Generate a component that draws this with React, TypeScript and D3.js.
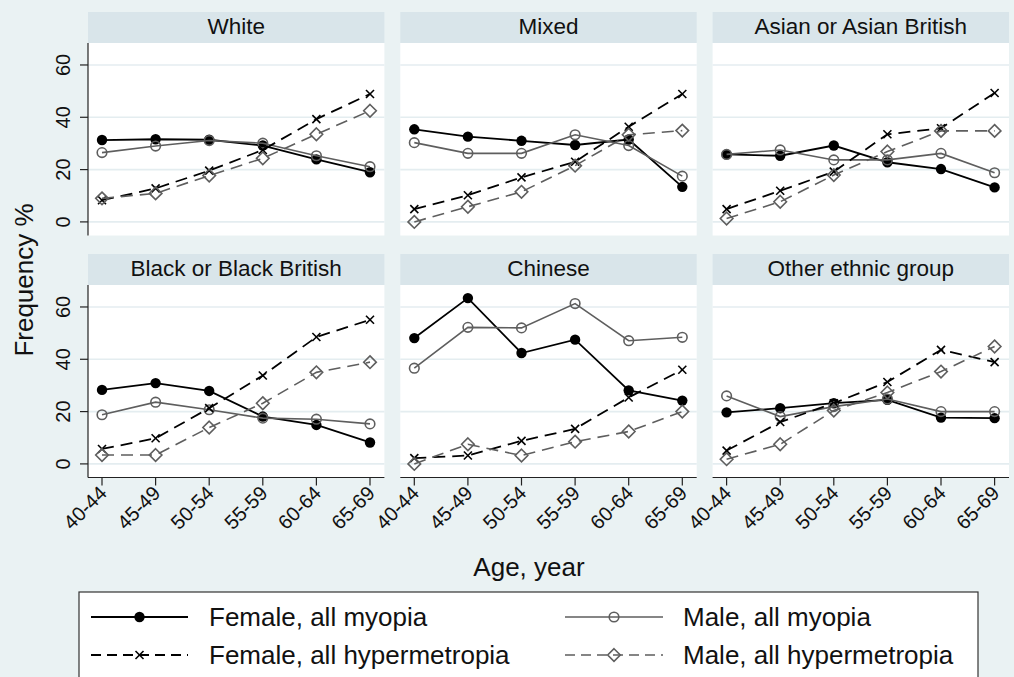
import { useEffect } from 'react';
import * as d3 from 'd3';

// ---- data ----
const ages = ['40-44', '45-49', '50-54', '55-59', '60-64', '65-69'];
const groups = [
  'White',
  'Mixed',
  'Asian or Asian British',
  'Black or Black British',
  'Chinese',
  'Other ethnic group',
];
const femaleMyopia = [
  [31.3, 31.6, 31.4, 29.2, 23.9, 19.0],
  [35.4, 32.6, 31.0, 29.4, 31.5, 13.4],
  [25.8, 25.3, 29.2, 22.8, 20.2, 13.2],
  [28.3, 30.9, 27.9, 18.1, 14.9, 8.2],
  [48.1, 63.4, 42.4, 47.5, 28.1, 24.2],
  [19.7, 21.3, 23.2, 24.5, 17.7, 17.5],
];
const maleMyopia = [
  [26.5, 29.0, 31.1, 30.1, 25.3, 21.1],
  [30.3, 26.2, 26.2, 33.3, 29.2, 17.5],
  [25.8, 27.5, 23.7, 23.7, 26.2, 18.8],
  [18.8, 23.6, 20.7, 17.5, 17.1, 15.3],
  [36.6, 52.2, 52.0, 61.3, 47.1, 48.4],
  [26.0, 18.1, 21.9, 24.8, 20.0, 20.0],
];
const femaleHyper = [
  [8.3, 12.8, 19.6, 27.5, 39.3, 48.9],
  [4.9, 10.2, 17.0, 23.0, 36.4, 48.9],
  [4.9, 11.9, 19.2, 33.5, 35.8, 49.3],
  [5.7, 9.8, 21.3, 33.8, 48.5, 55.1],
  [2.2, 3.2, 8.8, 13.4, 25.4, 36.0],
  [5.1, 16.0, 23.2, 31.3, 43.6, 38.9],
];
const maleHyper = [
  [9.0, 10.9, 17.7, 24.3, 33.5, 42.5],
  [0.0, 5.8, 11.5, 21.5, 33.3, 34.9],
  [1.3, 7.7, 17.9, 26.9, 34.8, 34.8],
  [3.4, 3.4, 13.9, 23.2, 35.0, 38.9],
  [0.0, 7.5, 3.2, 8.5, 12.4, 20.0],
  [1.8, 7.5, 20.4, 27.3, 35.3, 44.9],
];
const yTicks = [0, 20, 40, 60];
const legendLabels = [
  'Female, all myopia',
  'Male, all myopia',
  'Female, all hypermetropia',
  'Male, all hypermetropia',
];

// ---- layout ----
const W = 1014;
const H = 677;
const FONT = '"Liberation Sans", Arial, Helvetica, sans-serif';
const BG = '#EAF2F3';
const STRIP = '#D9E5EA';
const GRID = '#E4EDF0';
const GREY = '#5E5E5E';
const colLeft = [88, 400.3, 712.6];
const panelW = 296.4;
const rowTop = [12, 254];
const stripH = 31;
const plotH = 192.5;

type Style = { color: string; width: number; dash?: string; marker: 'dot' | 'ring' | 'x' | 'diamond' };
const styles: Style[] = [
  { color: '#000', width: 1.8, marker: 'dot' },
  { color: GREY, width: 1.6, marker: 'ring' },
  { color: '#000', width: 1.8, dash: '12,7', marker: 'x' },
  { color: GREY, width: 1.6, dash: '12,7', marker: 'diamond' },
];
const seriesData = [femaleMyopia, maleMyopia, femaleHyper, maleHyper];

function Marker({ x, y, s }: { x: number; y: number; s: Style }) {
  if (s.marker === 'dot') return <circle cx={x} cy={y} r={5.2} fill="#000" />;
  if (s.marker === 'ring')
    return <circle cx={x} cy={y} r={4.8} fill="none" stroke={s.color} strokeWidth={1.6} />;
  if (s.marker === 'x') {
    const h = 4;
    return (
      <g stroke="#000" strokeWidth={1.6}>
        <line x1={x - h} y1={y - h} x2={x + h} y2={y + h} />
        <line x1={x - h} y1={y + h} x2={x + h} y2={y - h} />
      </g>
    );
  }
  const d = 6.3;
  return (
    <path
      d={`M${x},${y - d}L${x + d},${y}L${x},${y + d}L${x - d},${y}Z`}
      fill="none"
      stroke={s.color}
      strokeWidth={1.6}
    />
  );
}

function Panel({ idx }: { idx: number }) {
  const col = idx % 3;
  const row = Math.floor(idx / 3);
  const left = colLeft[col];
  const top = rowTop[row] + stripH;
  const bottom = top + plotH;

  const x = d3.scalePoint<string>().domain(ages).range([left + 14, left + 282]);
  const y = d3.scaleLinear().domain([-5.2, 68.4]).range([bottom, top]);
  const line = d3
    .line<number>()
    .x((_, i) => x(ages[i]) as number)
    .y((v) => y(v));

  return (
    <g>
      <rect x={left} y={rowTop[row]} width={panelW} height={stripH} fill={STRIP} />
      <text
        x={left + panelW / 2}
        y={rowTop[row] + 21.5}
        textAnchor="middle"
        fontSize={22.5}
        fill="#111"
      >
        {groups[idx]}
      </text>
      <rect x={left} y={top} width={panelW} height={plotH} fill="#fff" />
      {yTicks.map((t) => (
        <line key={t} x1={left} x2={left + panelW} y1={y(t)} y2={y(t)} stroke={GRID} strokeWidth={1.6} />
      ))}
      {seriesData.map((sd, k) => {
        const s = styles[k];
        const vals = sd[idx];
        return (
          <g key={k}>
            <path
              d={line(vals) ?? ''}
              fill="none"
              stroke={s.color}
              strokeWidth={s.width}
              strokeDasharray={s.dash}
            />
            {vals.map((v, i) => (
              <Marker key={i} x={x(ages[i]) as number} y={y(v)} s={s} />
            ))}
          </g>
        );
      })}
      {col === 0 && (
        <g>
          <line x1={left} x2={left} y1={top} y2={bottom} stroke="#222" strokeWidth={1.2} />
          {yTicks.map((t) => (
            <g key={t}>
              <line x1={left - 8} x2={left} y1={y(t)} y2={y(t)} stroke="#222" strokeWidth={1.2} />
              <text
                transform={`translate(${left - 18},${y(t)}) rotate(-90)`}
                textAnchor="middle"
                fontSize={20}
                fill="#111"
              >
                {t}
              </text>
            </g>
          ))}
        </g>
      )}
      {row === 1 && (
        <g>
          <line x1={left} x2={left + panelW} y1={bottom} y2={bottom} stroke="#222" strokeWidth={1.2} />
          {ages.map((a) => (
            <g key={a}>
              <line
                x1={x(a) as number}
                x2={x(a) as number}
                y1={bottom}
                y2={bottom + 8}
                stroke="#222"
                strokeWidth={1.2}
              />
              <text
                transform={`translate(${(x(a) as number) + 6},${bottom + 17}) rotate(-45)`}
                textAnchor="end"
                fontSize={20}
                fill="#111"
              >
                {a}
              </text>
            </g>
          ))}
        </g>
      )}
    </g>
  );
}

function Legend() {
  const cols = [
    { x0: 91, x1: 188, tx: 209 },
    { x0: 565, x1: 663, tx: 683 },
  ];
  const rows = [617, 655];
  return (
    <g>
      <rect x={79} y={592} width={899} height={110} fill="#fff" stroke="#333" strokeWidth={1.2} />
      {legendLabels.map((lab, k) => {
        const c = cols[k % 2];
        const ry = rows[Math.floor(k / 2)];
        const s = styles[k];
        return (
          <g key={lab}>
            <line
              x1={c.x0}
              x2={c.x1}
              y1={ry}
              y2={ry}
              stroke={s.color}
              strokeWidth={s.width}
              strokeDasharray={s.dash ? '10,6' : undefined}
            />
            <Marker x={(c.x0 + c.x1) / 2} y={ry} s={s} />
            <text x={c.tx} y={ry + 9} fontSize={26} fill="#111">
              {lab}
            </text>
          </g>
        );
      })}
    </g>
  );
}

export default function App() {
  useEffect(() => {
    document.body.style.margin = '0';
  }, []);
  return (
    <svg width={W} height={H} style={{ display: 'block' }} fontFamily={FONT}>
      <rect width={W} height={H} fill={BG} />
      {groups.map((_, i) => (
        <Panel key={i} idx={i} />
      ))}
      <text transform="translate(33,280) rotate(-90)" textAnchor="middle" fontSize={26} fill="#111">
        Frequency %
      </text>
      <text x={529} y={576} textAnchor="middle" fontSize={26} fill="#111">
        Age, year
      </text>
      <Legend />
    </svg>
  );
}
